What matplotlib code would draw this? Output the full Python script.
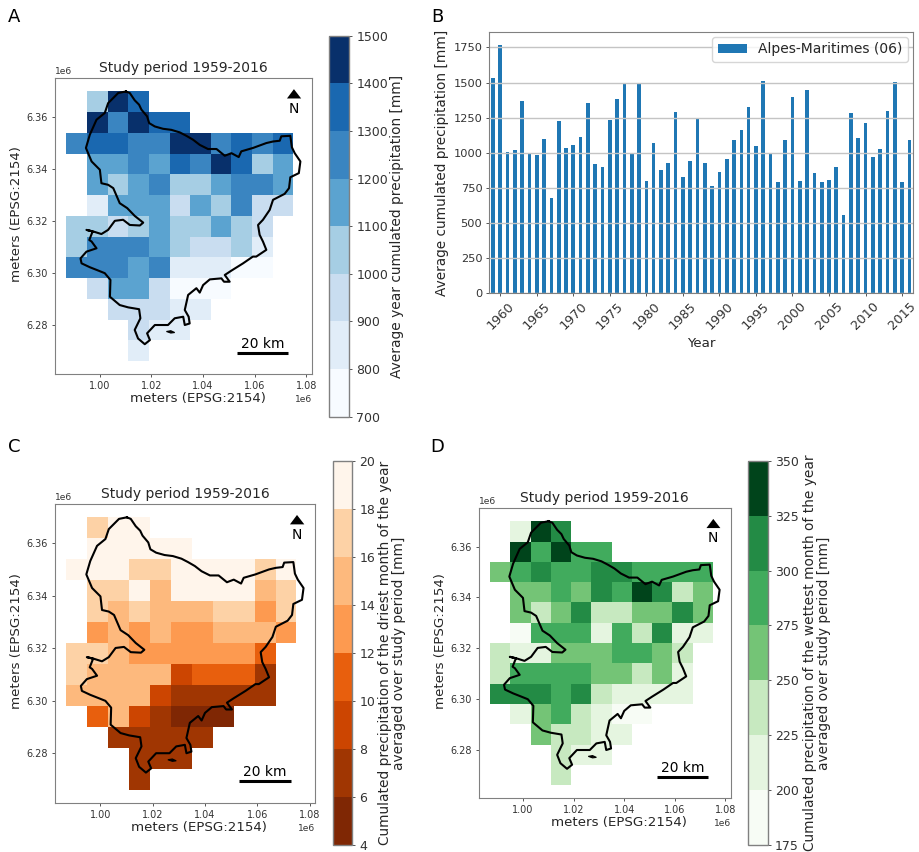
import numpy as np
import matplotlib
matplotlib.use('Agg')
import matplotlib.pyplot as plt
from matplotlib.colors import ListedColormap

n = np.nan

years = list(range(1959, 2017))
precip = [1530, 1770, 1005, 1020, 1365, 995, 985, 1095, 680, 1225,
          1030, 1055, 1115, 1355, 920, 895, 1235, 1385, 1495, 990,
          1500, 800, 1070, 875, 925, 1290, 825, 940, 1245, 930,
          760, 860, 955, 1090, 1160, 1325, 1045, 1510, 1000, 790,
          1090, 1395, 795, 1445, 855, 790, 805, 895, 555, 1285,
          1105, 1210, 970, 1025, 1300, 1505, 790, 1090]

# cell edges in km (EPSG:2154)
x_edges = [987, 995, 1003, 1011, 1019, 1027, 1035, 1043, 1051, 1059, 1067, 1075]
y_edges = [6370, 6362, 6354, 6346, 6338, 6330, 6322, 6314, 6306, 6298, 6290, 6282, 6274, 6266]

mean_year = [
    [n, 1050, 1450, 1350, n, n, n, n, n, n, n],
    [n, 1450, 1250, 1450, 1350, 1350, n, n, n, n, n],
    [1250, 1350, 1350, 1250, 1250, 1450, 1450, 1250, 1350, 1250, 1350],
    [n, 1150, 1150, 1250, 1150, 1350, 1250, 1450, 1350, 1050, 1150],
    [n, 1150, 1050, 1150, 1250, 1050, 1050, 1150, 1250, 1250, 1150],
    [n, 850, 1150, 1150, 1150, 950, 1150, 1050, 1250, 950, 950],
    [1050, 1050, 950, 1050, 1150, 1050, 1050, 1150, 1050, 950, n],
    [1050, 1250, 1250, 1250, 1150, 1050, 950, 950, 1050, 850, n],
    [1250, 1250, 1250, 1150, 1250, 850, 850, 850, 750, 750, n],
    [n, 950, 1150, 1150, 950, 750, 750, 750, n, n, n],
    [n, n, 950, 950, 950, 850, 850, n, n, n, n],
    [n, n, n, 950, 850, 850, n, n, n, n, n],
    [n, n, n, 850, n, n, n, n, n, n, n],
]

driest = [
    [n, 17, 19, 19, n, n, n, n, n, n, n],
    [n, 19, 19, 19, 19, 19, n, n, n, n, n],
    [19, 19, 19, 17, 17, 19, 19, 19, 19, 17, 19],
    [n, 17, 17, 19, 15, 19, 19, 19, 19, 15, 17],
    [n, 17, 15, 17, 15, 15, 15, 17, 17, 13, 17],
    [n, 13, 15, 13, 15, 13, 13, 15, 15, 15, 13],
    [17, 17, 15, 13, 13, 13, 13, 13, 13, 11, n],
    [17, 15, 15, 15, 15, 9, 11, 11, 11, 7, n],
    [15, 15, 15, 15, 9, 7, 7, 7, 7, 7, n],
    [n, 11, 15, 9, 7, 5, 5, 5, n, n, n],
    [n, n, 7, 7, 7, 7, 7, n, n, n, n],
    [n, n, n, 7, 7, 7, n, n, n, n, n],
    [n, n, n, 7, n, n, n, n, n, n, n],
]

wettest = [
    [n, 212, 337, 312, n, n, n, n, n, n, n],
    [n, 337, 287, 337, 287, 287, n, n, n, n, n],
    [262, 287, 312, 287, 287, 312, 312, 287, 287, 287, 287],
    [n, 262, 262, 287, 262, 312, 287, 337, 312, 237, 262],
    [n, 262, 237, 262, 312, 237, 237, 262, 262, 312, 262],
    [n, 187, 287, 287, 287, 212, 287, 237, 312, 212, 212],
    [237, 212, 212, 262, 262, 262, 287, 287, 262, 237, n],
    [237, 287, 287, 287, 287, 262, 262, 237, 262, 212, n],
    [312, 312, 312, 287, 312, 237, 212, 212, 212, 212, n],
    [n, 212, 262, 287, 237, 212, 187, 187, n, n, n],
    [n, n, 262, 237, 237, 212, 212, n, n, n, n],
    [n, n, n, 237, 212, 212, n, n, n, n, n],
    [n, n, n, 237, n, n, n, n, n, n, n],
]

blues = ['#f7fbff', '#e1edf8', '#c9ddf0', '#a6cee4', '#5ba3d0', '#3a85c1', '#1a68b0', '#08306b']
oranges = ['#7f2704', '#a03602', '#cc4501', '#e85f0d', '#fd9a50', '#fdb97d', '#fdd2a6', '#fff5eb']
greens = ['#f7fcf5', '#e5f5e0', '#c7e9c0', '#74c476', '#41ab5d', '#238b45', '#00441b']

# department outline in km
outline_x = [1010.1, 1011.6, 1013.5, 1015.2, 1016.1, 1018.3, 1019.1, 1021.3, 1024.5, 1027.7, 1031.0, 1033.5,
             1036.1, 1038.7, 1041.9, 1045.2, 1048.4, 1051.0, 1053.8, 1054.8, 1059.3, 1064.5, 1067.1, 1069.7,
             1070.3, 1073.8, 1074.4, 1075.5, 1077.7, 1077.1, 1073.8, 1073.3, 1071.6, 1067.1, 1065.8, 1063.2,
             1061.3, 1061.9, 1063.2, 1064.5, 1060.6, 1059.3, 1055.5, 1051.0, 1048.4, 1050.3, 1048.1, 1047.1,
             1042.6, 1040.0, 1038.7, 1037.4, 1034.2, 1032.9, 1034.4, 1034.8, 1032.9, 1032.3, 1029.0, 1026.4,
             1021.3, 1018.3, 1019.4, 1017.4, 1014.8, 1013.5, 1015.7, 1015.2, 1011.0, 1007.7, 1003.9, 1004.1,
             1001.9, 999.4, 996.1, 992.9, 992.5, 994.8, 998.7, 996.8, 995.9, 997.2, 994.8, 997.4, 1000.6,
             1003.2, 1005.8, 1009.0, 1011.6, 1015.5, 1016.8, 1013.5, 1010.6, 1007.7, 1005.2, 1003.2, 1000.6,
             1000.0, 996.8, 994.6, 996.1, 998.7, 1001.9, 1003.2, 1007.1, 1010.1]
outline_y = [6370.0, 6369.4, 6366.6, 6364.9, 6363.0, 6360.4, 6357.8, 6356.5, 6355.6, 6355.2, 6354.2, 6352.9,
             6351.4, 6349.4, 6347.8, 6347.8, 6345.2, 6346.2, 6344.7, 6346.9, 6348.2, 6350.1, 6350.7, 6351.0,
             6352.7, 6352.9, 6348.5, 6346.2, 6343.0, 6338.5, 6336.9, 6332.7, 6330.5, 6328.2, 6324.3, 6320.5,
             6318.5, 6314.7, 6312.1, 6308.9, 6306.3, 6306.3, 6303.7, 6300.9, 6299.2, 6296.6, 6296.6, 6297.9,
             6297.5, 6295.3, 6292.4, 6294.1, 6291.5, 6285.7, 6283.1, 6280.5, 6279.9, 6283.1, 6282.5, 6279.9,
             6279.9, 6276.7, 6274.1, 6272.5, 6274.7, 6278.0, 6282.5, 6286.0, 6286.7, 6287.6, 6290.8, 6297.3,
             6299.9, 6300.9, 6302.2, 6303.7, 6305.6, 6308.2, 6309.5, 6312.1, 6312.7, 6316.0, 6316.6, 6316.0,
             6315.0, 6316.6, 6320.1, 6320.5, 6318.5, 6318.3, 6319.4, 6322.0, 6325.0, 6326.9, 6332.7, 6334.0,
             6334.6, 6339.8, 6343.0, 6348.2, 6353.3, 6359.1, 6361.7, 6365.5, 6369.4, 6370.0]
island_x = [1025.8, 1027.5, 1029.0, 1027.5, 1025.8]
island_y = [6277.4, 6277.7, 6277.0, 6276.8, 6277.4]

W, H = 920, 852
plt.rcParams['font.family'] = 'DejaVu Sans'
plt.rcParams['text.color'] = '#262626'
plt.rcParams['axes.labelcolor'] = '#262626'
plt.rcParams['xtick.labelcolor'] = '#333333'
plt.rcParams['ytick.labelcolor'] = '#333333'
plt.rcParams['xtick.color'] = '#555555'
plt.rcParams['ytick.color'] = '#555555'
plt.rcParams['axes.edgecolor'] = '#808080'

fig = plt.figure(figsize=(W / 100, H / 100), dpi=100)


def add_axes(left, top, right, bottom):
    return fig.add_axes([left / W, 1 - bottom / H, (right - left) / W, (bottom - top) / H])


def map_panel(box, cbox, grid, colors, ticks, label, cb_pad):
    ax = add_axes(*box)
    xe = np.array(x_edges) * 1000.0
    ye = np.array(y_edges) * 1000.0
    mesh = ax.pcolormesh(xe, ye, np.array(grid, dtype=float), cmap=ListedColormap(colors),
                         vmin=ticks[0], vmax=ticks[-1])
    ax.plot(np.array(outline_x) * 1000, np.array(outline_y) * 1000, color='k', lw=1.5)
    ax.fill(np.array(island_x) * 1000, np.array(island_y) * 1000, color='k', lw=0.8)
    ax.set_xlim(982500, 1082200)
    ax.set_ylim(6261000, 6375200)
    ax.set_title('Study period 1959-2016', fontsize=10, pad=4)
    ax.set_xlabel('meters (EPSG:2154)', fontsize=9.6, labelpad=1, x=0.555)
    ax.set_ylabel('meters (EPSG:2154)', fontsize=9.6, labelpad=2, y=0.54)
    ax.tick_params(labelsize=7, length=2.5, width=0.7, pad=2.5)
    ax.xaxis.get_offset_text().set_fontsize(6.6)
    ax.yaxis.get_offset_text().set_fontsize(6.6)
    # north arrow
    ax.fill([1072500, 1075200, 1078000], [6367300, 6370900, 6367300], color='k', lw=0)
    ax.text(1075200, 6363300, 'N', ha='center', va='center', fontsize=10, color='k')
    # scale bar
    ax.plot([1053000, 1073000], [6269200, 6269200], color='k', lw=2.2, solid_capstyle='butt')
    ax.text(1063000, 6272700, '20 km', ha='center', va='center', fontsize=10, color='k')

    cax = add_axes(*cbox)
    cb = fig.colorbar(mesh, cax=cax, ticks=ticks)
    cb.ax.tick_params(labelsize=9, length=2.5, width=0.7, pad=2.5)
    cb.set_label(label, fontsize=9.9, labelpad=cb_pad, linespacing=1.0)
    cb.outline.set_edgecolor('#808080')
    cb.outline.set_linewidth(1.0)
    return ax


map_panel((54.7, 78, 312, 374), (329.3, 35.7, 349.3, 416.7), mean_year, blues,
          [700, 800, 900, 1000, 1100, 1200, 1300, 1400, 1500],
          'Average year cumulated precipitation [mm]', 1)
map_panel((54.7, 503.7, 315.3, 802.7), (332.7, 460.7, 352.3, 845), driest, oranges,
          [4, 6, 8, 10, 12, 14, 16, 18, 20],
          'Cumulated precipitation of the driest month of the year\naveraged over study period [mm]', 2)
map_panel((478.7, 508, 731, 798), (747.7, 460.7, 767.7, 845), wettest, greens,
          [175, 200, 225, 250, 275, 300, 325, 350],
          'Cumulated precipitation of the wettest month of the year\naveraged over study period [mm]', 3)

# bar panel
ax_b = add_axes(489.3, 32, 913, 293)
ax_b.bar(range(len(years)), precip, width=0.5, color='#1f77b4', label='Alpes-Maritimes (06)')
ax_b.set_xlim(-0.5, len(years) - 0.5)
ax_b.set_ylim(0, 1860)
ax_b.grid(axis='y', color='#c4c4c4', lw=1.0)
tick_years = [y for y in years if y % 5 == 0]
ax_b.set_xticks([years.index(y) for y in tick_years])
ax_b.set_xticklabels(tick_years, rotation=45, fontsize=9.3)
ax_b.tick_params(axis='y', labelsize=8.2, length=2.5, width=0.7, pad=2.5)
ax_b.tick_params(axis='x', length=2.5, width=0.7, pad=2.5)
ax_b.set_xlabel('Year', fontsize=9.6, labelpad=3)
ax_b.set_ylabel('Average cumulated precipitation [mm]', fontsize=9.8, labelpad=3)
ax_b.legend(loc='upper right', fontsize=10, handlelength=2.1, borderaxespad=0.35)

for letter, x, y in [('A', 14, 17), ('B', 437, 17), ('C', 14, 447), ('D', 437, 447)]:
    fig.text(x / W, 1 - y / H, letter, fontsize=13, ha='center', va='center', color='k')

fig.savefig('out.png', dpi=100)
